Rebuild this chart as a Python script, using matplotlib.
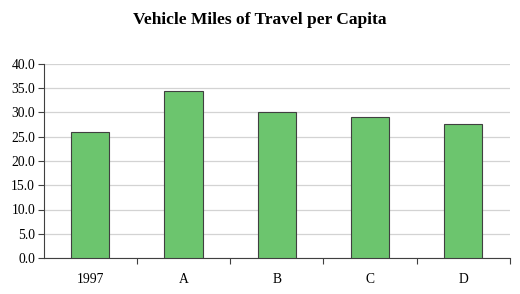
import matplotlib
matplotlib.use("Agg")
import matplotlib.pyplot as plt
import numpy as np

categories = ["1997", "A", "B", "C", "D"]
values = [26.0, 34.4, 30.1, 29.0, 27.6]
yticks = [0, 5, 10, 15, 20, 25, 30, 35, 40]

plt.rcParams['font.family'] = ['Liberation Serif', 'DejaVu Serif']

fig = plt.figure(figsize=(5.2, 2.94), dpi=100)
ax = fig.add_axes([43.5/520, 1-258/294, (510-43.5)/520, (258-64)/294])

x = np.arange(len(categories))
ax.bar(x, values, width=0.41, color="#6CC56E", edgecolor="#404040", linewidth=0.8, zorder=3)

ax.set_xlim(-0.5, len(categories)-0.5)
ax.set_ylim(0, 40)
ax.set_yticks(yticks)
ax.set_yticklabels([f"{v:.1f}" for v in yticks], fontsize=9.8)
ax.yaxis.grid(True, color="#D3D3D3", linewidth=0.9, zorder=0)
ax.set_axisbelow(True)

ax.set_xticks(x)
ax.set_xticklabels(categories, fontsize=9.8)
ax.tick_params(axis='x', length=0, pad=11)
ax.set_xticks(np.arange(0.5, len(categories)-0.4, 1.0), minor=True)
ax.tick_params(axis='x', which='minor', length=4, color="#404040", width=0.8)
ax.tick_params(axis='y', length=4, color="#404040", width=0.8, pad=2)

for s in ["top", "right"]:
    ax.spines[s].set_visible(False)
ax.spines["left"].set_color("#404040")
ax.spines["bottom"].set_color("#404040")
ax.spines["left"].set_linewidth(0.8)
ax.spines["bottom"].set_linewidth(0.8)

fig.text(259.5/520, 1-20/294, "Vehicle Miles of Travel per Capita", ha="center", va="center",
         fontsize=12.5, fontweight="bold")

fig.savefig("out.png", dpi=100)
